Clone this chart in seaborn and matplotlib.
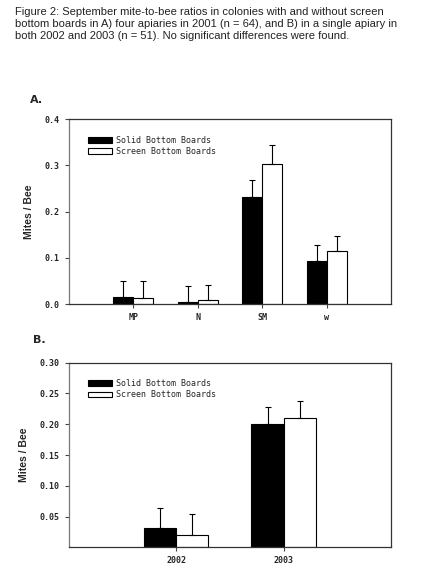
import matplotlib
matplotlib.use("Agg")
import matplotlib.pyplot as plt
import pandas as pd
import seaborn as sns

# panel A: four apiaries, 2001
sites = ["MP", "N", "SM", "w"]
solid_a = [0.016, 0.004, 0.231, 0.094]
solid_a_err = [0.034, 0.036, 0.037, 0.034]
screen_a = [0.014, 0.009, 0.303, 0.114]
screen_a_err = [0.036, 0.033, 0.041, 0.033]

# panel B: single apiary, 2002 and 2003
years = ["2002", "2003"]
solid_b = [0.032, 0.200]
solid_b_err = [0.032, 0.028]
screen_b = [0.020, 0.210]
screen_b_err = [0.034, 0.028]

groups = ["Solid Bottom Boards", "Screen Bottom Boards"]
caption = ("Figure 2: September mite-to-bee ratios in colonies with and without screen\n"
           "bottom boards in A) four apiaries in 2001 (n = 64), and B) in a single apiary in\n"
           "both 2002 and 2003 (n = 51). No significant differences were found.")

sns.set_style("ticks")
plt.rcParams["font.family"] = ["Liberation Sans", "DejaVu Sans"]

fig = plt.figure(figsize=(4.25, 5.71), dpi=100)
fig.text(0.035, 0.987, caption, fontsize=8, va="top", ha="left", linespacing=1.22, color="#222222")

tick_font = {"family": "DejaVu Sans Mono", "weight": "bold", "size": 6}


def panel(ax, cats, solid, solid_err, screen, screen_err, width, xlim, ylim, yticks, ytl):
    df = pd.DataFrame({
        "cat": cats * 2,
        "value": solid + screen,
        "group": [groups[0]] * len(cats) + [groups[1]] * len(cats),
    })
    sns.barplot(data=df, x="cat", y="value", hue="group", order=cats, hue_order=groups,
                palette=["black", "white"], edgecolor="black", linewidth=0.8,
                width=width, errorbar=None, ax=ax, saturation=1)
    for cont, errs in zip(ax.containers, [solid_err, screen_err]):
        for bar, e in zip(cont, errs):
            xc = bar.get_x() + bar.get_width() / 2
            ax.errorbar(xc, bar.get_height(), yerr=[[0], [e]], fmt="none",
                        ecolor="black", elinewidth=0.8, capsize=2.5, capthick=0.8)
    ax.set_xlim(*xlim)
    ax.set_ylim(*ylim)
    ax.set_xticks(range(len(cats)), labels=cats, fontdict=tick_font)
    ax.set_yticks(yticks, labels=ytl, fontdict=tick_font)
    ax.set_xlabel("")
    ax.set_ylabel("Mites / Bee", fontsize=7.5, fontweight="bold", labelpad=8)
    ax.tick_params(axis="both", length=3, width=0.8, direction="out", color="#444444")
    for s in ax.spines.values():
        s.set_linewidth(0.9)
        s.set_color("#333333")
    ax.spines["left"].set_color("#777777")
    h, l = ax.get_legend_handles_labels()
    ax.legend(h, l, loc="upper left", bbox_to_anchor=(0.05, 0.93), frameon=False,
              prop={"family": "DejaVu Sans Mono", "size": 6}, handlelength=2.8, handleheight=0.7,
              handletextpad=0.5, labelspacing=0.3, borderaxespad=0)


ax1 = fig.add_axes([0.162, 0.4676, 0.758, 0.3235])
panel(ax1, sites, solid_a, solid_a_err, screen_a, screen_a_err, 0.62, (-1, 4), (0, 0.4),
      [0, 0.1, 0.2, 0.3, 0.4], ["0.0", "0.1", "0.2", "0.3", "0.4"])

ax2 = fig.add_axes([0.162, 0.0415, 0.758, 0.3233])
panel(ax2, years, solid_b, solid_b_err, screen_b, screen_b_err, 0.6, (-1, 2), (0, 0.30),
      [0.05, 0.10, 0.15, 0.20, 0.25, 0.30], ["0.05", "0.10", "0.15", "0.20", "0.25", "0.30"])

fig.text(0.07, 0.82, "A.", fontsize=8, fontweight="bold", family="DejaVu Sans")
fig.text(0.077, 0.399, "B.", fontsize=8, fontweight="bold", family="DejaVu Sans")

fig.savefig("out.png", dpi=100, facecolor="white")
